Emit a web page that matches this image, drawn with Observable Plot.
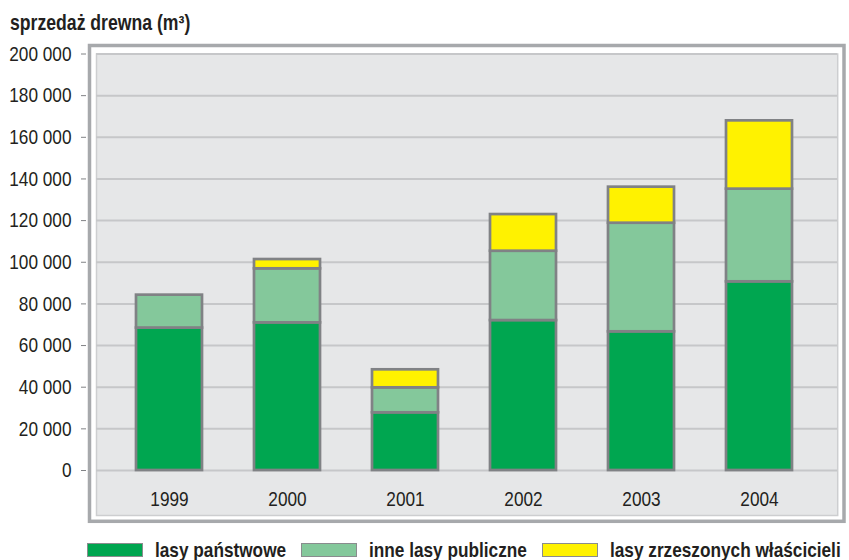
<!DOCTYPE html>
<html>
<head>
<meta charset="utf-8">
<script src="https://cdn.jsdelivr.net/npm/d3@7"></script>
<script src="https://cdn.jsdelivr.net/npm/@observablehq/plot@0.6"></script>
<style>
  body { margin: 0; background: #fff; color: #231f20;
         font-family: "Liberation Sans", Arial, sans-serif; }
  /* narrow lettering: Liberation Sans squeezed horizontally */
  .narrow { display: inline-block; transform: scaleX(0.82); transform-origin: left center; }
  #title { height: 34px; box-sizing: border-box; padding: 13px 0 0 10px;
           font-weight: bold; font-size: 21.5px; line-height: 20px; }
  #chart svg { display: block; }
  #legend { height: 48px; display: flex; align-items: center; padding-left: 87px;
            font-weight: bold; font-size: 21px; white-space: nowrap; overflow: visible; }
  #legend .sw { flex: none; width: 56px; height: 14px; box-sizing: border-box;
                border: 1.5px solid #8a8c8e; margin-right: 12px; }
  #legend .item { flex: none; display: flex; align-items: center; margin-right: 15px; }
</style>
</head>
<body>
<div id="title"><span class="narrow">sprzedaż drewna (m³)</span></div>
<div id="chart"></div>
<div id="legend"></div>
<script>
// Timber sales by forest ownership, 1999–2004 (m³)
const years = ["1999", "2000", "2001", "2002", "2003", "2004"];
const seriesNames = ["lasy państwowe", "inne lasy publiczne", "lasy zrzeszonych właścicieli"];
const lasyPanstwowe = [68400, 70900, 27700, 72000, 66600, 90600];
const inneLasyPubliczne = [15800, 25950, 12000, 33300, 52150, 44500];
const lasyZrzeszonych = [0, 4450, 8650, 17600, 17300, 32800];
const seriesColors = ["#00a650", "#84c89b", "#fff200"];
const yTicks = d3.range(0, 200001, 20000);

// long-format rows, bottom segment first so the stack follows this order
const seriesValues = [lasyPanstwowe, inneLasyPubliczne, lasyZrzeszonych];
const rows = [];
seriesNames.forEach((name, i) => {
  years.forEach((year, j) => {
    const value = seriesValues[i][j];
    if (value > 0) rows.push({year, series: name, value});
  });
});

const formatThousands = (d) => d3.format(",")(d).replace(/,/g, " ");

const chart = Plot.plot({
  width: 849,
  height: 492,
  marginLeft: 108,
  marginRight: 28,
  marginTop: 19.5,
  marginBottom: 56,
  style: {fontFamily: '"Liberation Sans", Arial, sans-serif', fontSize: "21px",
          color: "#231f20", background: "transparent"},
  x: {domain: years, paddingInner: 0.44, paddingOuter: 0.22, label: null},
  y: {domain: [0, 200000], label: null},
  color: {domain: seriesNames, range: seriesColors},
  marks: [
    // outer grey border
    Plot.frame({stroke: "#a7a9ac", strokeWidth: 3.5,
                insetLeft: -19, insetRight: -22.5, insetTop: -8.5, insetBottom: -50.8}),
    // inner grey panel
    Plot.frame({fill: "#e6e7e8", stroke: "#cdced0", strokeWidth: 1.5,
                insetLeft: -12, insetRight: -16.2, insetBottom: -45}),
    Plot.ruleY(yTicks, {stroke: "#c6c7c9", strokeWidth: 2, insetLeft: -12, insetRight: -16.2}),
    Plot.barY(rows, {x: "year", y: "value", fill: "series", stroke: "#808285", strokeWidth: 2.7}),
    Plot.axisY(yTicks, {tickSize: 5, tickPadding: 10, dx: -22, tickFormat: formatThousands,
                        stroke: "#808285", fill: "#231f20", label: null}),
    Plot.axisX({tickSize: 0, tickPadding: 21, label: null, fill: "#231f20"})
  ]
});

// squeeze the tick labels horizontally about their anchor point
chart.querySelectorAll("text").forEach((t) => {
  const x = parseFloat(t.getAttribute("x")) || 0;
  const prior = t.getAttribute("transform") || "";
  t.setAttribute("transform", `${prior} translate(${x},0) scale(0.82,1) translate(${-x},0)`.trim());
});
document.getElementById("chart").appendChild(chart);

// legend below the chart
const legend = document.getElementById("legend");
seriesNames.forEach((name, i) => {
  const item = document.createElement("div");
  item.className = "item";
  const sw = document.createElement("div");
  sw.className = "sw";
  sw.style.background = seriesColors[i];
  const label = document.createElement("span");
  label.className = "narrow";
  label.textContent = name;
  item.appendChild(sw);
  item.appendChild(label);
  legend.appendChild(item);
  // take back the width freed by the horizontal squeeze
  label.style.marginRight = (-label.offsetWidth * 0.18) + "px";
});
</script>
</body>
</html>
